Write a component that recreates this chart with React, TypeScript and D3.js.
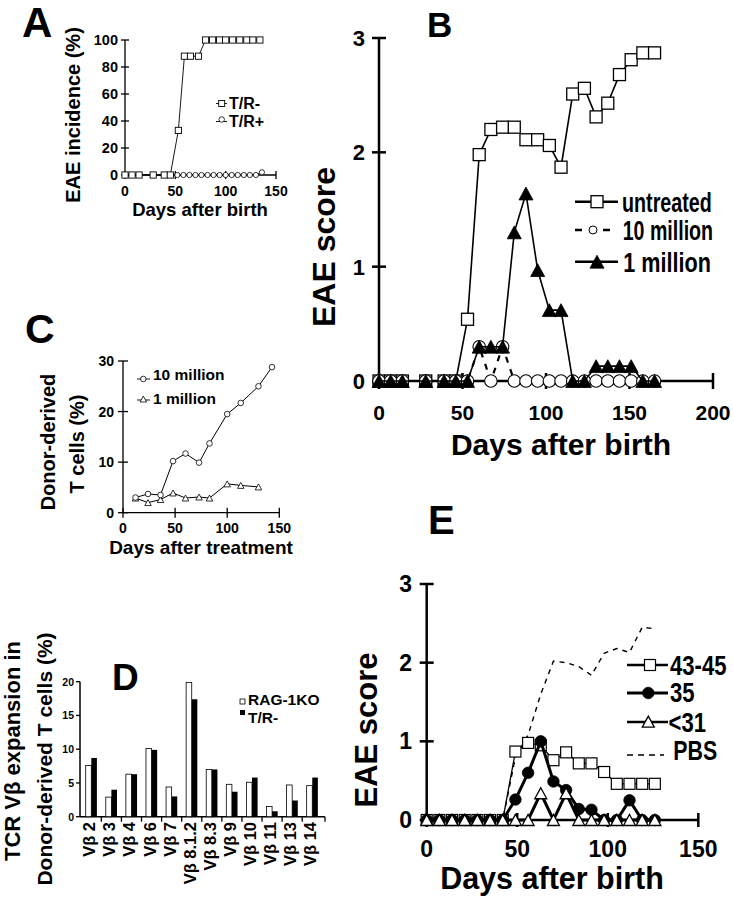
import React from "react";
import * as d3 from "d3";

const FONT = "'Liberation Sans', Arial, Helvetica, sans-serif";

// ---------- Panel A ----------
const aXTicks = [0, 50, 100, 150];
const aYTicks = [0, 20, 40, 60, 80, 100];
const aNegDays = [0, 7, 14, 28, 39, 45, 53, 59, 65, 73, 80, 87, 94, 100, 107, 114, 121, 127, 134];
const aNegVals = [0, 0, 0, 0, 0, 0, 33, 88, 88, 88, 100, 100, 100, 100, 100, 100, 100, 100, 100];
const aPosDays = [0, 7, 14, 28, 39, 45, 52, 58, 64, 70, 76, 82, 88, 94, 100, 106, 112, 118, 124, 130, 136];
const aPosVals = [0, 0, 0, 0, 0, 0, 0, 0, 0, 0, 0, 0, 0, 0, 0, 0, 0, 0, 0, 0, 2];

// ---------- Panel B ----------
const bXTicks = [0, 50, 100, 150, 200];
const bYTicks = [0, 1, 2, 3];
const bDays = [0, 7, 14, 28, 39, 46, 53, 60, 67, 74, 81, 88, 95, 102, 109, 116, 123, 130, 137, 144, 151, 158, 165];
const bUntreated = [0, 0, 0, 0, 0, 0, 0.54, 1.98, 2.2, 2.22, 2.22, 2.11, 2.11, 2.06, 1.87, 2.51, 2.56, 2.31, 2.43, 2.68, 2.81, 2.87, 2.87];
const b10M = [0, 0, 0, 0, 0, 0, 0, 0.3, 0, 0.3, 0, 0, 0, 0, 0, 0, 0, 0, 0, 0, 0, 0, 0];
const b1M = [0, 0, 0, 0, 0, 0, 0, 0.3, 0.3, 0.3, 1.3, 1.64, 0.97, 0.62, 0.62, 0, 0, 0.13, 0.13, 0.13, 0.13, 0, 0];

// ---------- Panel C ----------
const cXTicks = [0, 50, 100, 150];
const cYTicks = [0, 10, 20, 30];
const c10Days = [12, 24, 36, 48, 60, 73, 83, 100, 113, 130, 143];
const c10Vals = [3.0, 3.7, 3.5, 10.2, 11.7, 9.9, 13.7, 19.5, 21.7, 25.0, 28.8];
const c1Days = [12, 24, 36, 48, 60, 73, 83, 100, 113, 130];
const c1Vals = [2.9, 2.0, 2.6, 3.9, 2.9, 3.1, 2.9, 5.7, 5.4, 5.1];

// ---------- Panel D ----------
const dCats = ["Vβ 2", "Vβ 3", "Vβ 4", "Vβ 6", "Vβ 7", "Vβ 8.1.2", "Vβ 8.3", "Vβ 9", "Vβ 10", "Vβ 11", "Vβ 13", "Vβ 14"];
const dRag = [7.6, 2.9, 6.3, 10.1, 4.4, 19.9, 7.0, 4.8, 5.1, 1.5, 4.7, 4.6];
const dTR = [8.7, 4.0, 6.3, 9.9, 3.0, 17.4, 7.0, 3.7, 5.8, 0.8, 2.4, 5.8];
const dYTicks = [0, 5, 10, 15, 20];

// ---------- Panel E ----------
const eXTicks = [0, 50, 100, 150];
const eYTicks = [0, 1, 2, 3];
const eDays = [0, 7, 14, 21, 28, 35, 42, 49, 56, 63, 70, 77, 84, 91, 98, 105, 112, 119, 126];
const e4345 = [0, 0, 0, 0, 0, 0, 0, 0.87, 0.98, 0.95, 0.76, 0.86, 0.72, 0.72, 0.61, 0.46, 0.46, 0.46, 0.46];
const e35 = [0, 0, 0, 0, 0, 0, 0, 0.26, 0.6, 1.0, 0.49, 0.38, 0.14, 0.13, 0, 0, 0.25, 0, 0];
const e31 = [0, 0, 0, 0, 0, 0, 0, 0, 0, 0.34, 0, 0.34, 0, 0, 0, 0, 0, 0, 0];
const ePbsDays = [0, 42, 49, 56, 63, 70, 77, 84, 91, 98, 105, 112, 119, 126];
const ePbs = [0, 0, 0.8, 1.08, 1.6, 2.02, 2.0, 1.95, 1.84, 2.12, 2.18, 2.13, 2.45, 2.43];

type Sc = (v: number) => number;

function linePath(days: number[], vals: number[], sx: Sc, sy: Sc) {
  return (
    d3
      .line<[number, number]>()
      .x((d) => sx(d[0]))
      .y((d) => sy(d[1]))(days.map((d, i) => [d, vals[i]] as [number, number])) || ""
  );
}

function Marker(props: { shape: string; x: number; y: number; size: number; fill: string; sw?: number }) {
  const { shape, x, y, size, fill } = props;
  const sw = props.sw ?? 1;
  if (shape === "square")
    return <rect x={x - size / 2} y={y - size / 2} width={size} height={size} fill={fill} stroke="#000" strokeWidth={sw} />;
  if (shape === "circle") return <circle cx={x} cy={y} r={size / 2} fill={fill} stroke="#000" strokeWidth={sw} />;
  const h = size * 0.92;
  return (
    <path
      d={`M${x},${y - h / 2}L${x + size / 2},${y + h / 2}L${x - size / 2},${y + h / 2}Z`}
      fill={fill}
      stroke="#000"
      strokeWidth={sw}
      strokeLinejoin="miter"
    />
  );
}

// condensed text: a tall font squeezed horizontally
function CondText(props: { x: number; y: number; size: number; sx: number; children: React.ReactNode }) {
  return (
    <text
      transform={`translate(${props.x},${props.y}) scale(${props.sx},1)`}
      fontSize={props.size}
      fontFamily={FONT}
      fontWeight={700}
      fill="#000"
    >
      {props.children}
    </text>
  );
}

export default function App() {
  const T = { fontFamily: FONT, fontWeight: 700, fill: "#000" } as const;

  const ax = d3.scaleLinear().domain([0, 150]).range([125, 276]);
  const ay = d3.scaleLinear().domain([0, 100]).range([175, 40]);
  const bx = d3.scaleLinear().domain([0, 200]).range([379, 713]);
  const by = d3.scaleLinear().domain([0, 3]).range([381, 38]);
  const cx = d3.scaleLinear().domain([0, 150]).range([123, 279.3]);
  const cy = d3.scaleLinear().domain([0, 30]).range([512.7, 361]);
  const dx = d3.scaleBand<string>().domain(dCats).range([81.25, 322.3]);
  const dy = d3.scaleLinear().domain([0, 20]).range([816.7, 681.7]);
  const ex = d3.scaleLinear().domain([0, 150]).range([426.7, 698.3]);
  const ey = d3.scaleLinear().domain([0, 3]).range([820, 584]);
  const bw = 5.6;

  return (
    <svg
      width={733}
      height={899}
      viewBox="0 0 733 899"
      style={{ position: "absolute", left: 0, top: 0, background: "#fff" }}
    >
      <rect x={0} y={0} width={733} height={899} fill="#fff" />

      {/* ================= Panel A ================= */}
      <g>
        <text x={22} y={37} fontSize={42} {...T}>A</text>
        <line x1={ax(0)} x2={ax(0)} y1={ay(100)} y2={ay(0)} stroke="#000" strokeWidth={1.3} />
        <line x1={ax(0)} x2={ax(150)} y1={ay(0)} y2={ay(0)} stroke="#000" strokeWidth={1.3} />
        {aYTicks.map((t) => (
          <g key={"ay" + t}>
            <line x1={ax(0) - 4} x2={ax(0) + 4} y1={ay(t)} y2={ay(t)} stroke="#000" strokeWidth={1.3} />
            <text x={ax(0) - 7} y={ay(t) + 5} fontSize={14.5} textAnchor="end" {...T}>{t}</text>
          </g>
        ))}
        {aXTicks.map((t) => (
          <g key={"ax" + t}>
            <line x1={ax(t)} x2={ax(t)} y1={ay(0) - 4} y2={ay(0) + 4} stroke="#000" strokeWidth={1.3} />
            <text x={ax(t)} y={196} fontSize={14} textAnchor="middle" {...T}>{t}</text>
          </g>
        ))}
        <path d={linePath(aPosDays, aPosVals, ax, ay)} fill="none" stroke="#000" strokeWidth={0.9} />
        {aPosDays.map((d, i) => (
          <Marker key={"ap" + i} shape="circle" x={ax(d)} y={ay(aPosVals[i])} size={5.2} fill="#fff" sw={0.8} />
        ))}
        <path d={linePath(aNegDays, aNegVals, ax, ay)} fill="none" stroke="#000" strokeWidth={0.9} />
        {aNegDays.map((d, i) => (
          <Marker key={"an" + i} shape="square" x={ax(d)} y={ay(aNegVals[i])} size={6.2} fill="#fff" sw={0.9} />
        ))}
        <text transform="translate(80,115) rotate(-90)" fontSize={20} textAnchor="middle" {...T}>EAE incidence (%)</text>
        <text x={200} y={216} fontSize={18.5} textAnchor="middle" {...T}>Days after birth</text>
        {/* legend */}
        <line x1={216} x2={227} y1={103.5} y2={103.5} stroke="#000" strokeWidth={0.9} />
        <Marker shape="square" x={221.7} y={103.5} size={6} fill="#fff" sw={0.9} />
        <text x={229} y={109} fontSize={16} {...T}>T/R-</text>
        <line x1={216} x2={227} y1={121.5} y2={121.5} stroke="#000" strokeWidth={0.9} />
        <Marker shape="circle" x={221.7} y={119.5} size={5.5} fill="#fff" sw={0.8} />
        <text x={229} y={127} fontSize={16} {...T}>T/R+</text>
      </g>

      {/* ================= Panel B ================= */}
      <g>
        <text x={427} y={37} fontSize={35} {...T}>B</text>
        <line x1={bx(0)} x2={bx(0)} y1={by(3)} y2={by(0)} stroke="#000" strokeWidth={2.5} />
        <line x1={bx(0)} x2={bx(200)} y1={by(0)} y2={by(0)} stroke="#000" strokeWidth={2.5} />
        {bYTicks.map((t) => (
          <g key={"by" + t}>
            <line x1={bx(0) - 7} x2={bx(0) + 7} y1={by(t)} y2={by(t)} stroke="#000" strokeWidth={2.5} />
            <text x={365} y={by(t) + 8} fontSize={22} textAnchor="end" {...T}>{t}</text>
          </g>
        ))}
        {bXTicks.map((t) => (
          <g key={"bx" + t}>
            <line x1={bx(t)} x2={bx(t)} y1={by(0) - 8} y2={by(0) + 8} stroke="#000" strokeWidth={2.5} />
            <text x={bx(t)} y={420} fontSize={21} textAnchor="middle" {...T}>{t}</text>
          </g>
        ))}
        <path d={linePath(bDays, bUntreated, bx, by)} fill="none" stroke="#000" strokeWidth={1.6} />
        {bDays.map((d, i) => (
          <Marker key={"bu" + i} shape="square" x={bx(d)} y={by(bUntreated[i])} size={12} fill="#fff" sw={1.3} />
        ))}
        <path d={linePath(bDays, b10M, bx, by)} fill="none" stroke="#000" strokeWidth={2.2} strokeDasharray="6,7" />
        {bDays.map((d, i) => (
          <Marker key={"bt" + i} shape="circle" x={bx(d)} y={by(b10M[i])} size={12.5} fill="#fff" sw={1.1} />
        ))}
        <path d={linePath(bDays, b1M, bx, by)} fill="none" stroke="#000" strokeWidth={1.6} />
        {bDays.map((d, i) => (
          <Marker key={"bo" + i} shape="triangle" x={bx(d)} y={by(b1M[i])} size={14} fill="#000" sw={0.8} />
        ))}
        <text transform="translate(335,247) rotate(-90)" fontSize={32} textAnchor="middle" {...T}>EAE score</text>
        <text x={561} y={455} fontSize={30} textAnchor="middle" {...T}>Days after birth</text>
        {/* legend */}
        <line x1={575} x2={618} y1={201.7} y2={201.7} stroke="#000" strokeWidth={2.5} />
        <Marker shape="square" x={597} y={201.7} size={12} fill="#fff" sw={1.3} />
        <CondText x={622} y={212} size={27} sx={0.73}>untreated</CondText>
        <line x1={575} x2={582} y1={230} y2={230} stroke="#000" strokeWidth={2.5} />
        <line x1={603} x2={610} y1={230} y2={230} stroke="#000" strokeWidth={2.5} />
        <Marker shape="circle" x={593} y={230} size={8} fill="#fff" sw={1} />
        <CondText x={622.7} y={240} size={27} sx={0.726}>10 million</CondText>
        <line x1={575} x2={618} y1={261.7} y2={261.7} stroke="#000" strokeWidth={2.5} />
        <Marker shape="triangle" x={597} y={261.7} size={14} fill="#000" sw={0.8} />
        <CondText x={623.3} y={271.5} size={27} sx={0.8}>1 million</CondText>
      </g>

      {/* ================= Panel C ================= */}
      <g>
        <text x={25} y={343} fontSize={41} {...T}>C</text>
        <line x1={cx(0)} x2={cx(0)} y1={cy(30)} y2={cy(0)} stroke="#000" strokeWidth={1.3} />
        <line x1={cx(0)} x2={cx(150)} y1={cy(0)} y2={cy(0)} stroke="#000" strokeWidth={1.3} />
        {cYTicks.map((t) => (
          <g key={"cy" + t}>
            <line x1={cx(0) - 5} x2={cx(0) + 5} y1={cy(t)} y2={cy(t)} stroke="#000" strokeWidth={1.3} />
            <text x={114} y={cy(t) + 5} fontSize={14} textAnchor="end" {...T}>{t}</text>
          </g>
        ))}
        {cXTicks.map((t) => (
          <g key={"cx" + t}>
            <line x1={cx(t)} x2={cx(t)} y1={cy(0) - 5} y2={cy(0) + 5} stroke="#000" strokeWidth={1.3} />
            <text x={cx(t)} y={533} fontSize={14} textAnchor="middle" {...T}>{t}</text>
          </g>
        ))}
        <path d={linePath(c1Days, c1Vals, cx, cy)} fill="none" stroke="#000" strokeWidth={1} />
        {c1Days.map((d, i) => (
          <Marker key={"c1" + i} shape="triangle" x={cx(d)} y={cy(c1Vals[i])} size={6.5} fill="#fff" sw={0.8} />
        ))}
        <path d={linePath(c10Days, c10Vals, cx, cy)} fill="none" stroke="#000" strokeWidth={1} />
        {c10Days.map((d, i) => (
          <Marker key={"c10" + i} shape="circle" x={cx(d)} y={cy(c10Vals[i])} size={5.6} fill="#fff" sw={0.8} />
        ))}
        <text transform="translate(55,442) rotate(-90)" fontSize={20} textAnchor="middle" {...T}>Donor-derived</text>
        <text transform="translate(84,444) rotate(-90)" fontSize={20} textAnchor="middle" {...T}>T cells (%)</text>
        <text x={201} y={554} fontSize={19} textAnchor="middle" {...T}>Days after treatment</text>
        {/* legend */}
        <line x1={137} x2={150} y1={379} y2={379} stroke="#000" strokeWidth={0.9} />
        <Marker shape="circle" x={143.3} y={379} size={5.6} fill="#fff" sw={0.8} />
        <text x={153} y={380} fontSize={15.5} {...T}>10 million</text>
        <line x1={137} x2={150} y1={400} y2={400} stroke="#000" strokeWidth={0.9} />
        <Marker shape="triangle" x={143.3} y={399} size={6.5} fill="#fff" sw={0.8} />
        <text x={153} y={404} fontSize={15.5} {...T}>1 million</text>
      </g>

      {/* ================= Panel D ================= */}
      <g>
        <text x={112} y={690} fontSize={37} {...T}>D</text>
        <line x1={80} x2={80} y1={dy(20)} y2={dy(0)} stroke="#000" strokeWidth={1.5} />
        <line x1={80} x2={325} y1={dy(0)} y2={dy(0)} stroke="#000" strokeWidth={1.5} />
        {dYTicks.map((t) => (
          <g key={"dy" + t}>
            <line x1={76} x2={80} y1={dy(t)} y2={dy(t)} stroke="#000" strokeWidth={1.3} />
            <text x={74} y={dy(t) + 3.8} fontSize={10.5} textAnchor="end" {...T}>{t}</text>
          </g>
        ))}
        {dCats.map((c, i) => (
          <line
            key={"dt" + i}
            x1={i < dCats.length - 1 ? (dx(c) as number) + dx.bandwidth() : 325}
            x2={i < dCats.length - 1 ? (dx(c) as number) + dx.bandwidth() : 325}
            y1={dy(0)}
            y2={dy(0) + 5}
            stroke="#000"
            strokeWidth={1.3}
          />
        ))}
        {dCats.map((c, i) => {
          const mid = (dx(c) as number) + dx.bandwidth() / 2;
          return (
            <g key={"db" + i}>
              <rect x={mid - bw} y={dy(dRag[i])} width={bw} height={dy(0) - dy(dRag[i])} fill="#fff" stroke="#000" strokeWidth={0.8} />
              <rect x={mid} y={dy(dTR[i])} width={bw} height={dy(0) - dy(dTR[i])} fill="#000" />
              <text transform={`translate(${mid + 4},822) rotate(-90)`} fontSize={16.5} textAnchor="end" {...T}>{c}</text>
            </g>
          );
        })}
        <text transform="translate(20,751) rotate(-90)" fontSize={22} textAnchor="middle" {...T}>TCR Vβ expansion in</text>
        <text transform="translate(52,759) rotate(-90)" fontSize={21} textAnchor="middle" {...T}>Donor-derived T cells (%)</text>
        {/* legend */}
        <rect x={240} y={699} width={5} height={5} fill="#fff" stroke="#000" strokeWidth={0.8} />
        <text x={248} y={705} fontSize={15.5} {...T}>RAG-1KO</text>
        <rect x={240} y={710} width={5} height={5} fill="#000" />
        <text x={248} y={723} fontSize={15.5} {...T}>T/R-</text>
      </g>

      {/* ================= Panel E ================= */}
      <g>
        <text x={428} y={534} fontSize={40} {...T}>E</text>
        <line x1={ex(0)} x2={ex(0)} y1={ey(3)} y2={ey(0)} stroke="#000" strokeWidth={2.5} />
        <line x1={ex(0)} x2={ex(150)} y1={ey(0)} y2={ey(0)} stroke="#000" strokeWidth={2.5} />
        {eYTicks.map((t) => (
          <g key={"ey" + t}>
            <line x1={ex(0) - 7} x2={ex(0) + 7} y1={ey(t)} y2={ey(t)} stroke="#000" strokeWidth={2.5} />
            <text x={412} y={ey(t) + 8} fontSize={23} textAnchor="end" {...T}>{t}</text>
          </g>
        ))}
        {eXTicks.map((t) => (
          <g key={"ex" + t}>
            <line x1={ex(t)} x2={ex(t)} y1={ey(0) - 7} y2={ey(0) + 7} stroke="#000" strokeWidth={2.5} />
            <text x={ex(t)} y={857} fontSize={23} textAnchor="middle" {...T}>{t}</text>
          </g>
        ))}
        <path d={linePath(ePbsDays, ePbs, ex, ey)} fill="none" stroke="#000" strokeWidth={1.4} strokeDasharray="5,5" />
        <path d={linePath(eDays, e4345, ex, ey)} fill="none" stroke="#000" strokeWidth={1.3} />
        {eDays.map((d, i) => (
          <Marker key={"e4" + i} shape="square" x={ex(d)} y={ey(e4345[i])} size={11} fill="#fff" sw={1.2} />
        ))}
        <path d={linePath(eDays, e35, ex, ey)} fill="none" stroke="#000" strokeWidth={3} />
        {eDays.map((d, i) => (
          <Marker key={"e3" + i} shape="circle" x={ex(d)} y={ey(e35[i])} size={11.5} fill="#000" sw={0.8} />
        ))}
        <path d={linePath(eDays, e31, ex, ey)} fill="none" stroke="#000" strokeWidth={3} />
        {eDays.map((d, i) => (
          <Marker key={"e1" + i} shape="triangle" x={ex(d)} y={ey(e31[i])} size={12} fill="#fff" sw={1.3} />
        ))}
        <text transform="translate(377,730) rotate(-90)" fontSize={31} textAnchor="middle" {...T}>EAE score</text>
        <text x={552} y={888.5} fontSize={30.5} textAnchor="middle" {...T}>Days after birth</text>
        {/* legend */}
        <line x1={627} x2={668} y1={665} y2={665} stroke="#000" strokeWidth={2.5} />
        <Marker shape="square" x={650} y={665} size={11} fill="#fff" sw={1.2} />
        <CondText x={670} y={675} size={27} sx={0.82}>43-45</CondText>
        <line x1={627} x2={668} y1={693} y2={693} stroke="#000" strokeWidth={3} />
        <Marker shape="circle" x={648.3} y={693} size={11.5} fill="#000" sw={0.8} />
        <CondText x={670} y={702} size={27} sx={0.82}>35</CondText>
        <line x1={627} x2={668} y1={722} y2={722} stroke="#000" strokeWidth={2.5} />
        <Marker shape="triangle" x={648.3} y={721.7} size={12} fill="#fff" sw={1.3} />
        <CondText x={668.5} y={731.5} size={27} sx={0.82}>&lt;31</CondText>
        <line x1={627} x2={664} y1={755} y2={755} stroke="#000" strokeWidth={1.5} strokeDasharray="6,5" />
        <CondText x={673.3} y={760} size={27} sx={0.79}>PBS</CondText>
      </g>
    </svg>
  );
}
